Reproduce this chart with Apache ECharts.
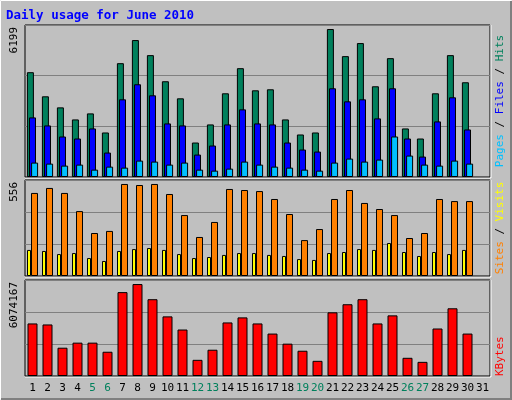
<!DOCTYPE html>
<html><head><meta charset="utf-8">
<script src="https://cdn.jsdelivr.net/npm/echarts@6/dist/echarts.min.js"></script>
<style>html,body{margin:0;padding:0;background:#C0C0C0}#c{width:512px;height:400px}</style>
</head><body><div id="c"></div>
<script>
const days = Array.from({length:31},(_,i)=>String(i+1));
const weekend = ['5','6','12','13','19','20','26','27'];
const hits = [4274,3291,2840,2348,2594,1816,4642,5585,4970,3905,3209,1406,2144,3414,4438,3536,3577,2348,1734,1816,6035,4929,5462,3700,4847,1980,1570,3414,4970,3864,null];
const files = [2430,2103,1652,1570,1980,997,3168,3782,3332,2185,2103,915,1284,2144,2758,2185,2144,1406,1120,1038,3618,3086,3168,2390,3618,1570,833,2267,3250,1939,null];
const pages = [587,546,464,505,300,423,382,669,628,505,587,300,259,341,628,505,423,382,300,259,587,751,628,710,1652,874,505,464,669,546,null];
const visits = [481,510,481,376,249,261,533,527,533,475,353,226,313,504,498,492,446,359,208,272,446,498,423,388,353,220,249,446,434,434,null];
const sites = [151,145,127,133,104,87,145,156,162,151,127,104,110,122,133,133,122,116,98,93,133,139,156,151,191,139,116,139,127,151,null];
const kbytes = [3325000,3261000,1790000,2110000,2110000,1535000,5307000,5818000,4859000,3772000,2941000,1023000,1662000,3389000,3708000,3325000,2685000,2046000,1598000,959000,4028000,4540000,4859000,3325000,3836000,1151000,895000,3005000,4284000,2685000];
const maxHits = 6199, maxVisits = 556, maxK = 6074167;

const panels = [{top:25,h:152},{top:180,h:96},{top:280,h:96}];
const L=25, R=22;
const grids = panels.map(p=>({left:L,right:R,top:p.top,height:p.h,show:true,backgroundColor:'#C0C0C0',borderColor:'#000',borderWidth:1}));
const maxes=[maxHits,maxVisits,maxK];
const xAxes = panels.map((p,i)=>({type:'category',gridIndex:i,data:days,axisLine:{show:false},axisTick:{show:false},
  axisLabel: i<2?{show:false}:{show:true,interval:0,margin:7,fontFamily:'DejaVu Sans Mono',fontSize:11,
    formatter:v=>weekend.includes(v)?'{w|'+v+'}':'{n|'+v+'}',rich:{w:{color:'#00805C',fontFamily:'DejaVu Sans Mono',fontSize:11},n:{color:'#000',fontFamily:'DejaVu Sans Mono',fontSize:11}}}}));
const yAxes = maxes.map((m,i)=>({type:'value',gridIndex:i,min:0,max:m,interval:m/3,axisLabel:{show:false},axisLine:{show:false},axisTick:{show:false},splitLine:{show:true,lineStyle:{color:'#808080',width:1}}}));
const bs={borderColor:'#000',borderWidth:1};
const series=[
 {type:'bar',xAxisIndex:0,yAxisIndex:0,data:hits,barWidth:7,barGap:'-70%',itemStyle:{color:'#00805C',...bs}},
 {type:'bar',xAxisIndex:0,yAxisIndex:0,data:files,barWidth:7,barGap:'-70%',itemStyle:{color:'#0000FF',...bs}},
 {type:'bar',xAxisIndex:0,yAxisIndex:0,data:pages,barWidth:7,barGap:'-70%',itemStyle:{color:'#00C0FF',...bs}},
 {type:'bar',xAxisIndex:1,yAxisIndex:1,data:sites,barWidth:4,barGap:'0%',itemStyle:{color:'#FFFF00',...bs}},
 {type:'bar',xAxisIndex:1,yAxisIndex:1,data:visits,barWidth:7,barGap:'0%',itemStyle:{color:'#FF8000',...bs}},
 {type:'bar',xAxisIndex:2,yAxisIndex:2,data:kbytes,barWidth:10,itemStyle:{color:'#FF0000',...bs}}
];
const mono='DejaVu Sans Mono';
const g=[
 {type:'rect',shape:{x:0.5,y:0.5,width:511,height:399},style:{fill:'none',stroke:'#fff',lineWidth:1}},
 {type:'polyline',shape:{points:[[1,399],[511,399],[511,1]]},style:{stroke:'#808080',lineWidth:2,fill:'none'}},
 {type:'text',x:6,y:9,style:{text:'Daily usage for June 2010',fill:'#0000FF',font:'bold 12.5px '+mono}},
];
panels.forEach(p=>{g.push({type:'polyline',shape:{points:[[L,p.top+p.h+1],[512-R+1,p.top+p.h+1],[512-R+1,p.top]]},style:{stroke:'#fff',lineWidth:1,fill:'none'}});});
const left=['6199','556','6074167'];
panels.forEach((p,i)=>g.push({type:'text',x:14,y:p.top+2,rotation:Math.PI/2,style:{text:left[i],fill:'#000',font:'11px '+mono,align:'right',verticalAlign:'middle'}}));
g.push({type:'text',x:500,y:25+76,rotation:Math.PI/2,style:{text:'{p|Pages}{s| / }{f|Files}{s| / }{h|Hits}',align:'center',verticalAlign:'middle',font:'11px '+mono,
  rich:{p:{fill:'#00C0FF',font:'11px '+mono},f:{fill:'#0000FF',font:'11px '+mono},h:{fill:'#00805C',font:'11px '+mono},s:{fill:'#000',font:'11px '+mono}}}});
g.push({type:'text',x:500,y:180+48,rotation:Math.PI/2,style:{text:'{a|Sites}{s| / }{b|Visits}',align:'center',verticalAlign:'middle',font:'11px '+mono,
  rich:{a:{fill:'#FF8000',font:'11px '+mono},b:{fill:'#FFFF00',font:'11px '+mono},s:{fill:'#000',font:'11px '+mono}}}});
g.push({type:'text',x:500,y:376,rotation:Math.PI/2,style:{text:'KBytes',fill:'#FF0000',align:'left',verticalAlign:'middle',font:'11px '+mono}});
const ch=echarts.init(document.getElementById('c'));
ch.setOption({animation:false,backgroundColor:'#C0C0C0',grid:grids,xAxis:xAxes,yAxis:yAxes,series,graphic:g});
</script></body></html>
